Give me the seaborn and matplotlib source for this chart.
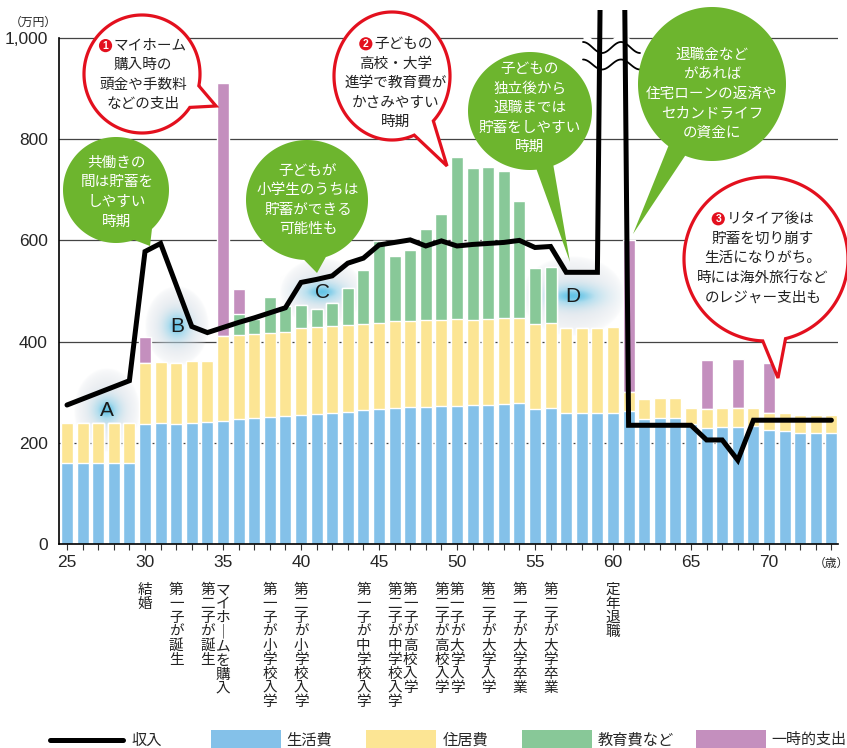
import numpy as np
import pandas as pd
import matplotlib
matplotlib.use('Agg')
import matplotlib.pyplot as plt
from matplotlib.patches import Polygon, Circle, Rectangle
from matplotlib.lines import Line2D
import seaborn as sns

# data (万円)
ages = list(range(25, 75))
living = [160, 160, 160, 160, 160, 238, 240, 238, 240, 242,
          243, 247, 249, 251, 253, 255, 257, 259, 261, 265,
          267, 269, 271, 271, 273, 273, 275, 275, 277, 279,
          267, 269, 259, 259, 260, 260, 263, 247, 249, 249,
          237, 229, 231, 231, 233, 225, 223, 219, 219, 219]
housing = [80, 80, 80, 80, 80, 120, 120, 120, 121, 120,
           168, 166, 166, 166, 166, 172, 172, 172, 172, 170,
           170, 172, 170, 172, 170, 172, 168, 170, 170, 168,
           168, 168, 169, 169, 168, 170, 37, 39, 39, 39,
           33, 38, 38, 38, 37, 35, 37, 37, 37, 37]
education = [0, 0, 0, 0, 0, 0, 0, 0, 0, 0,
             0, 42, 30, 71, 51, 46, 36, 45, 74, 106,
             162, 128, 140, 179, 209, 320, 300, 300, 290, 231,
             111, 110, 0, 0, 0, 0, 0, 0, 0, 0,
             0, 0, 0, 0, 0, 0, 0, 0, 0, 0]
onetime = [0, 0, 0, 0, 0, 51, 0, 0, 0, 0,
           499, 49, 0, 0, 0, 0, 0, 0, 0, 0,
           0, 0, 0, 0, 0, 0, 0, 0, 0, 0,
           0, 0, 0, 0, 0, 0, 300, 0, 0, 0,
           0, 97, 0, 97, 0, 98, 0, 0, 0, 0]
income = [275, 287, 299, 311, 323, 578, 594, 512, 430, 418,
          428, 438, 447, 457, 467, 517, 523, 530, 555, 565,
          591, 596, 601, 589, 599, 589, 592, 594, 596, 600,
          586, 588, 537, 537, 537, 3600, 235, 235, 235, 235,
          235, 206, 206, 166, 245, 245, 245, 245, 245, 245]

event_ages = [30, 32, 34, 35, 38, 40, 44, 46, 47, 49, 50, 52, 54, 56, 60]
event_labels = ['結婚', '第一子が誕生', '第二子が誕生', 'マイホームを購入',
                '第一子が小学校入学', '第二子が小学校入学', '第一子が中学校入学',
                '第二子が中学校入学', '第一子が高校入学', '第二子が高校入学',
                '第一子が大学入学', '第二子が大学入学', '第一子が大学卒業',
                '第二子が大学卒業', '定年退職']

legend_labels = ['収入', '生活費', '住居費', '教育費など', '一時的支出']
xtick_values = [25, 30, 35, 40, 45, 50, 55, 60, 65, 70]
ytick_values = [0, 200, 400, 600, 800, 1000]

C_LIVING = '#84C1E9'
C_HOUSING = '#FCE594'
C_EDU = '#88C898'
C_ONCE = '#C48FBE'
C_GREEN = '#6DB52E'
C_RED = '#E3101E'

sns.set_theme(style='white')
plt.rcParams['font.family'] = ['Liberation Sans', 'Noto Sans CJK JP', 'DejaVu Sans']
JP = ['Noto Sans CJK JP', 'DejaVu Sans']

W, H = 847, 748
fig = plt.figure(figsize=(W / 100, H / 100), dpi=100)

# pixel layout: age 25 at x=67, 15.6 px per year; value 0 at y=544.3, 0.5065 px per 万円
X0, XS, Y0, YS = 67, 15.6, 544.3, 0.5065
AX_L, AX_R, AX_T = 59, 838, 10
ax = fig.add_axes([AX_L / W, (H - Y0) / H, (AX_R - AX_L) / W, (Y0 - AX_T) / H])


def to_data(x, y):
    return 25 + (x - X0) / XS, (Y0 - y) / YS


def to_inch(x, y):
    return x / 100, (H - y) / 100


df = pd.DataFrame({'age': ages, 'living': living, 'housing': housing,
                   'education': education, 'onetime': onetime, 'income': income})
df['s1'] = df['living']
df['s2'] = df['s1'] + df['housing']
df['s3'] = df['s2'] + df['education']
df['s4'] = df['s3'] + df['onetime']

# stacked bars by overlaying cumulative totals
for col, colour in [('s4', C_ONCE), ('s3', C_EDU), ('s2', C_HOUSING), ('s1', C_LIVING)]:
    sns.barplot(data=df, x='age', y=col, color=colour, saturation=1, width=0.77,
                native_scale=True, errorbar=None, ax=ax, zorder=2)

sns.lineplot(data=df, x='age', y='income', color='black', lw=3.6, ax=ax,
             zorder=6, solid_joinstyle='miter')


# soft glow spots A-D
def glow(x, y, rx, ry, kx, ky, letter):
    n = 140
    u = np.linspace(-1, 1, n)
    uu, vv = np.meshgrid(u, u)
    r = np.sqrt(uu ** 2 + vv ** 2)
    core = np.exp(-((uu / kx) ** 2 + (vv / ky) ** 2))
    halo = np.clip(1 - r, 0, 1) ** 0.5
    img = np.zeros((n, n, 4))
    blue = [0.36, 0.76, 0.9]
    grey = [0.84, 0.86, 0.89]
    for k in range(3):
        img[..., k] = grey[k] * (1 - core) + blue[k] * core
    img[..., 3] = np.maximum(0.75 * halo, 0.95 * core)
    x0, y0 = to_data(x - rx, y + ry)
    x1, y1 = to_data(x + rx, y - ry)
    ax.imshow(img, extent=(x0, x1, y0, y1), origin='lower', aspect='auto',
              zorder=1, interpolation='bilinear')
    ax.text(*to_data(x, y + 1), letter, fontsize=15, ha='center', va='center',
            color='#1a1a1a', zorder=8)


glow(107, 410, 33, 42, 0.42, 0.32, 'A')
glow(177, 326, 32, 40, 0.42, 0.36, 'B')
glow(322, 292, 42, 34, 0.55, 0.3, 'C')
glow(573, 296, 52, 40, 0.6, 0.28, 'D')

# break mark on the income spike
wpx = np.linspace(583, 640, 80)
wx = [to_data(p, 0)[0] for p in wpx]
up = np.array([to_data(0, 47.5 - 5.5 * np.cos(2 * np.pi * (p - 583) / 38))[1] for p in wpx])
lo = np.array([to_data(0, 64.5 - 5 * np.cos(2 * np.pi * (p - 583) / 38))[1] for p in wpx])
ax.fill_between(wx, lo, up + 16, color='white', zorder=5, lw=0)
ax.plot(wx, up, color='black', lw=1.3, zorder=7)
ax.plot(wx, lo, color='black', lw=1.3, zorder=7)

# axes styling
ax.set_xlim(to_data(AX_L, 0)[0], to_data(AX_R, 0)[0])
ax.set_ylim(0, to_data(0, AX_T)[1])
ax.set_xticks(xtick_values)
ax.set_xticklabels([str(v) for v in xtick_values], fontsize=12.5)
ax.set_xticks(ages, minor=True)
ax.set_yticks(ytick_values)
ax.set_yticklabels([f'{v:,}' for v in ytick_values], fontsize=12.5)
ax.set_xlabel('')
ax.set_ylabel('')
ax.tick_params(axis='x', which='both', direction='out', length=4, width=0.8,
               color='#333333', bottom=True, pad=4)
ax.tick_params(axis='y', length=0, pad=8)
ax.grid(True, axis='y', color='#444444', lw=0.9)
ax.grid(False, axis='x')
ax.set_axisbelow(True)
for s in ['top', 'right']:
    ax.spines[s].set_visible(False)
for s in ['left', 'bottom']:
    ax.spines[s].set_color('black')
    ax.spines[s].set_linewidth(1.2)
ax.spines['left'].set_bounds(0, 1000)

fig.text(*to_inch(33, 22), '（万円）', transform=fig.dpi_scale_trans, fontsize=8.5,
         ha='center', va='center', family=JP)
fig.text(*to_inch(831, 563), '（歳）', transform=fig.dpi_scale_trans, fontsize=8.5,
         ha='center', va='center', family=JP)

# life events written vertically under the axis
ytop = (Y0 - 583) / (Y0 - AX_T)
for a, s in zip(event_ages, event_labels):
    ax.text(a, ytop, '\n'.join(s.replace('ー', '｜')), transform=ax.get_xaxis_transform(),
            ha='center', va='top', fontsize=10.5, family=JP, linespacing=1.0,
            color='#222222', clip_on=False)


# speech bubbles, in pixel space
def bubble(c, r, tip, half, fc, ec=None):
    cx, cy = to_inch(*c)
    rx, ry = r[0] / 100, r[1] / 100
    tx, ty = to_inch(*tip)
    th = np.arctan2((ty - cy) / ry, (tx - cx) / rx)
    a = np.linspace(th + half, th + 2 * np.pi - half, 200)
    pts = np.column_stack([cx + rx * np.cos(a), cy + ry * np.sin(a)])
    pts = np.vstack([pts, [tx, ty]])
    fig.add_artist(Polygon(pts, closed=True, fc=fc, ec=ec if ec else 'none',
                           lw=2.3 if ec else 0, transform=fig.dpi_scale_trans,
                           zorder=10, joinstyle='miter'))


EM = 10.5 * 100 / 72   # full-width glyph size in px
STEP = 19.6


def btext(pos, lines, colour, num=None):
    n = len(lines)
    for i, s in enumerate(lines):
        x = pos[0]
        y = pos[1] + (i - (n - 1) / 2) * STEP
        if i == 0 and num:
            x += EM / 2
            bx = x - len(s) * EM / 2 - EM / 2 - 1
            fig.add_artist(Circle(to_inch(bx, y), 0.066, fc=C_RED, ec='none',
                                  transform=fig.dpi_scale_trans, zorder=12))
            fig.text(*to_inch(bx, y + 0.5), num, transform=fig.dpi_scale_trans,
                     ha='center', va='center', fontsize=7.5, color='white',
                     weight='bold', zorder=13)
        fig.text(*to_inch(x, y), s, transform=fig.dpi_scale_trans,
                 ha='center', va='center', fontsize=10.5, family=JP,
                 color=colour, zorder=11)


bubble((142, 74), (58, 59), (216, 106), 0.2, 'white', C_RED)
btext((143, 75), ['マイホーム', '購入時の', '頭金や手数料', 'などの支出'], '#222222', '1')

bubble((116, 190), (53, 53), (150, 246), 0.2, C_GREEN)
btext((117, 192), ['共働きの', '間は貯蓄を', 'しやすい', '時期'], 'white')

bubble((307, 200), (61, 60), (317, 273), 0.18, C_GREEN)
btext((308, 200), ['子どもが', '小学生のうちは', '貯蓄ができる', '可能性も'], 'white')

bubble((392, 76), (58, 64), (447, 166), 0.2, 'white', C_RED)
btext((396, 83), ['子どもの', '高校・大学', '進学で教育費が', 'かさみやすい', '時期'], '#222222', '2')

bubble((530, 111), (62, 59), (570, 262), 0.14, C_GREEN)
btext((530, 108), ['子どもの', '独立後から', '退職までは', '貯蓄をしやすい', '時期'], 'white')

bubble((712, 84), (74, 77), (633, 234), 0.13, C_GREEN)
btext((712, 94), ['退職金など', 'があれば', '住宅ローンの返済や', 'セカンドライフ', 'の資金に'], 'white')

bubble((766, 259), (82, 82), (778, 378), 0.14, 'white', C_RED)
btext((763, 258), ['リタイア後は', '貯蓄を切り崩す', '生活になりがち。', '時には海外旅行など', 'のレジャー支出も'], '#222222', '3')

# legend along the bottom
ly = 740
fig.add_artist(Line2D([0.50, 1.23], [(H - ly) / 100] * 2, color='black', lw=3.6,
                      transform=fig.dpi_scale_trans))
fig.text(*to_inch(131, ly), legend_labels[0], transform=fig.dpi_scale_trans,
         ha='left', va='center', fontsize=11, family=JP)
for (x0, x1, tx), colour, lab in zip([(211, 281, 286), (366, 436, 443), (522, 592, 598), (696, 766, 771)],
                                     [C_LIVING, C_HOUSING, C_EDU, C_ONCE], legend_labels[1:]):
    fig.add_artist(Rectangle(to_inch(x0, 748), (x1 - x0) / 100, 0.18, fc=colour, ec='none',
                             transform=fig.dpi_scale_trans))
    fig.text(*to_inch(tx, ly), lab, transform=fig.dpi_scale_trans,
             ha='left', va='center', fontsize=10.8 if lab == legend_labels[-1] else 11,
             family=JP)

fig.savefig('out.png', dpi=100)
